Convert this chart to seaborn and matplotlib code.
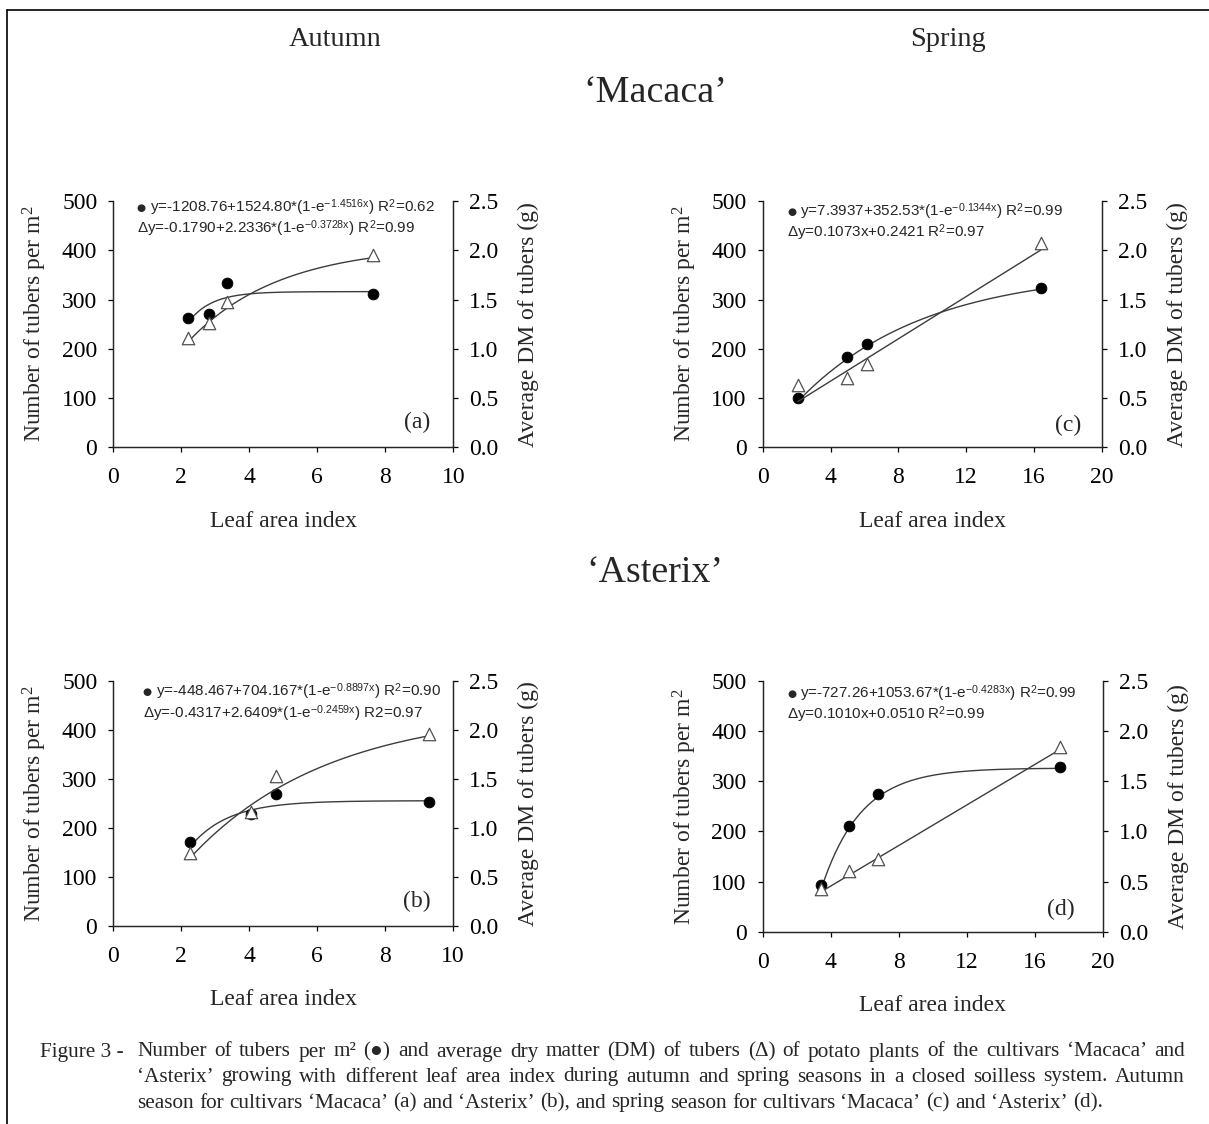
import numpy as np
import pandas as pd
import seaborn as sns
import matplotlib.pyplot as plt
from matplotlib.lines import Line2D

lai_a = [2.2, 2.8, 3.35, 7.63]
tubers_a = [263, 271, 333, 311]
dm_a = [1.11, 1.26, 1.47, 1.95]

lai_c = [2.08, 5.0, 6.15, 16.4]
tubers_c = [100, 184, 210, 324]
dm_c = [0.635, 0.70, 0.846, 2.07]

lai_b = [2.25, 4.07, 4.8, 9.3]
tubers_b = [171, 229, 269, 254]
dm_b = [0.75, 1.16, 1.53, 1.96]

lai_d = [3.43, 5.05, 6.8, 17.5]
tubers_d = [93, 210, 275, 328]
dm_d = [0.43, 0.61, 0.72, 1.84]

# fitted equations printed in each panel
fit_tubers_a = [-1208.76, 1524.80, 1.4516]
fit_dm_a = [-0.1790, 2.2336, 0.3728]
fit_tubers_c = [7.3937, 352.53, 0.1344]
fit_dm_c = [0.1073, 0.2421]
fit_tubers_b = [-448.467, 704.167, 0.8897]
fit_dm_b = [-0.4317, 2.6409, 0.2459]
fit_tubers_d = [-727.26, 1053.67, 0.4283]
fit_dm_d = [0.1010, 0.0510]

eq_a = [r"y=-1208.76+1524.80*(1-e$^{\mathsf{-1.4516x}}$) R$^{\mathsf{2}}$=0.62",
        r"Δy=-0.1790+2.2336*(1-e$^{\mathsf{-0.3728x}}$) R$^{\mathsf{2}}$=0.99"]
eq_c = [r"y=7.3937+352.53*(1-e$^{\mathsf{-0.1344x}}$) R$^{\mathsf{2}}$=0.99",
        r"Δy=0.1073x+0.2421 R$^{\mathsf{2}}$=0.97"]
eq_b = [r"y=-448.467+704.167*(1-e$^{\mathsf{-0.8897x}}$) R$^{\mathsf{2}}$=0.90",
        r"Δy=-0.4317+2.6409*(1-e$^{\mathsf{-0.2459x}}$) R2=0.97"]
eq_d = [r"y=-727.26+1053.67*(1-e$^{\mathsf{-0.4283x}}$) R$^{\mathsf{2}}$=0.99",
        r"Δy=0.1010x+0.0510 R$^{\mathsf{2}}$=0.99"]

caption = [
    "Number of tubers per m² (●) and average dry matter (DM) of tubers (Δ) of potato plants of the cultivars ‘Macaca’ and",
    "‘Asterix’ growing with different leaf area index during autumn and spring seasons in a closed soilless system. Autumn",
    "season for cultivars ‘Macaca’ (a) and ‘Asterix’ (b), and spring season for cultivars ‘Macaca’ (c) and ‘Asterix’ (d).",
]


def exp_fit(x, c):
    return c[0] + c[1] * (1 - np.exp(-c[2] * x))


def lin_fit(x, c):
    return c[0] * x + c[1]


sns.set_style("ticks")
plt.rcParams['font.family'] = ['Liberation Serif', 'DejaVu Serif', 'DejaVu Sans']
plt.rcParams['mathtext.fontset'] = 'custom'
plt.rcParams['mathtext.rm'] = 'Liberation Serif'
plt.rcParams['mathtext.it'] = 'Liberation Serif:italic'
plt.rcParams['mathtext.sf'] = 'Liberation Sans'

W, H = 1209, 1124
fig = plt.figure(figsize=(W / 100, H / 100), dpi=100)
fig.patch.set_facecolor('white')

line_col = '#3c3c3c'
fs = 17

panels = [
    # pixel box (left, top, right, bottom) of each panel
    dict(px=(113.3, 201, 453.3, 447.3), lai=lai_a, tub=tubers_a, dm=dm_a,
         ft=(exp_fit, fit_tubers_a), fd=(exp_fit, fit_dm_a), xmax=10, xstep=2,
         tag='(a)', tpos=(0.893, 0.099), eq=eq_a, ex=136.7, ey=(208, 229)),
    dict(px=(762.7, 201, 1101.7, 447.3), lai=lai_c, tub=tubers_c, dm=dm_c,
         ft=(exp_fit, fit_tubers_c), fd=(lin_fit, fit_dm_c), xmax=20, xstep=4,
         tag='(c)', tpos=(0.90, 0.09), eq=eq_c, ex=787.3, ey=(212, 233)),
    dict(px=(113.3, 681, 452.7, 926), lai=lai_b, tub=tubers_b, dm=dm_b,
         ft=(exp_fit, fit_tubers_b), fd=(exp_fit, fit_dm_b), xmax=10, xstep=2,
         tag='(b)', tpos=(0.894, 0.102), eq=eq_b, ex=142.7, ey=(692, 714)),
    dict(px=(762.7, 681, 1102.7, 931.7), lai=lai_d, tub=tubers_d, dm=dm_d,
         ft=(exp_fit, fit_tubers_d), fd=(lin_fit, fit_dm_d), xmax=20, xstep=4,
         tag='(d)', tpos=(0.877, 0.087), eq=eq_d, ex=787.0, ey=(694, 715)),
]

for p in panels:
    l, t, r, b = p['px']
    ax = fig.add_axes([l / W, 1 - b / H, (r - l) / W, (b - t) / H])
    ax2 = ax.twinx()

    xs = np.linspace(min(p['lai']), max(p['lai']), 200)
    sns.lineplot(x=xs, y=p['ft'][0](xs, p['ft'][1]), ax=ax, color=line_col, lw=1.0)
    sns.scatterplot(x=p['lai'], y=p['tub'], ax=ax, marker='o', s=60,
                    color='black', edgecolor='black', zorder=3)
    sns.lineplot(x=xs, y=p['fd'][0](xs, p['fd'][1]), ax=ax2, color=line_col, lw=1.0)
    sns.scatterplot(x=p['lai'], y=p['dm'], ax=ax2, marker='^', s=80,
                    facecolor='white', edgecolor='#505050', linewidth=0.9, zorder=3)

    ax.set_xlim(0, p['xmax'])
    ax.set_ylim(0, 500)
    ax2.set_ylim(0, 2.5)
    ax.set_xticks(np.arange(0, p['xmax'] + 1, p['xstep']))
    ax.set_yticks(np.arange(0, 501, 100))
    ax2.set_yticks(np.arange(0, 2.51, 0.5))
    ax2.set_yticklabels([f"{v:.1f}" for v in np.arange(0, 2.51, 0.5)])

    for a in (ax, ax2):
        a.spines['top'].set_visible(False)
        for s in a.spines.values():
            s.set_linewidth(0.9)
        a.tick_params(direction='out', length=3.5, width=0.9, labelsize=fs, colors='black')
    ax.tick_params(axis='x', pad=11)
    ax.tick_params(axis='y', pad=8)
    ax2.tick_params(axis='y', pad=8)

    ax.set_xlabel("Leaf area index", fontsize=fs, labelpad=16)
    ax.set_ylabel("Number of tubers per m$^2$", fontsize=fs, labelpad=9)
    ax2.set_ylabel("Average DM of tubers (g)", fontsize=fs, labelpad=14)

    ax.text(p['tpos'][0], p['tpos'][1], p['tag'], transform=ax.transAxes, fontsize=fs,
            ha='center', va='center')

    # fitted equations: bullet, then the two lines
    aw, ah = r - l, b - t
    x0 = (p['ex'] - l) / aw
    y1 = (b - p['ey'][0]) / ah
    y2 = (b - p['ey'][1]) / ah
    ax.text(x0 + 4.5 / aw, y1, "●", transform=ax.transAxes, fontsize=7.5,
            family='DejaVu Sans', ha='center', va='center', zorder=5)
    ax.text(x0 + 13 / aw, y1, p['eq'][0], transform=ax.transAxes, fontsize=11,
            family='Liberation Sans', ha='left', va='center', zorder=5)
    ax.text(x0, y2, p['eq'][1], transform=ax.transAxes, fontsize=11,
            family='Liberation Sans', ha='left', va='center', zorder=5)

# titles
fig.text(335 / W, 1 - 40 / H, "Autumn", fontsize=20.4, ha='center', va='center')
fig.text(948 / W, 1 - 40 / H, "Spring", fontsize=20.4, ha='center', va='center')
fig.text(655 / W, 1 - 93 / H, "‘Macaca’", fontsize=27.4, ha='center', va='center')
fig.text(655 / W, 1 - 573 / H, "‘Asterix’", fontsize=27.4, ha='center', va='center')

# frame
fig.add_artist(Line2D([7 / W, 7 / W], [0, 1 - 10 / H], transform=fig.transFigure,
                      color='black', lw=1.2))
fig.add_artist(Line2D([7 / W, 1], [1 - 10 / H, 1 - 10 / H], transform=fig.transFigure,
                      color='black', lw=1.2))

# caption, justified like the journal layout
renderer = fig.canvas.get_renderer()
cap_size = 15.3


def measure(s):
    tmp = fig.text(0, 0, s, fontsize=cap_size)
    w = tmp.get_window_extent(renderer).width
    tmp.remove()
    return w


def place_line(text, x0, x1, y, justify=True):
    words = text.split(' ')
    objs = [fig.text(0, 1 - y / H, w, fontsize=cap_size, va='center', ha='left') for w in words]
    widths = [o.get_window_extent(renderer).width for o in objs]
    if justify:
        gap = (x1 - x0 - sum(widths)) / (len(words) - 1)
    else:
        gap = measure('a a') - measure('aa')
    x = x0
    for o, w in zip(objs, widths):
        o.set_x(x / W)
        x += w + gap


fig.text(40 / W, 1 - 1052 / H, "Figure 3 -", fontsize=cap_size, va='center', ha='left')
place_line(caption[0], 137, 1185, 1052)
place_line(caption[1], 137, 1185, 1077)
place_line(caption[2], 137, 1185, 1103, justify=False)

fig.savefig("out.png", dpi=100)
